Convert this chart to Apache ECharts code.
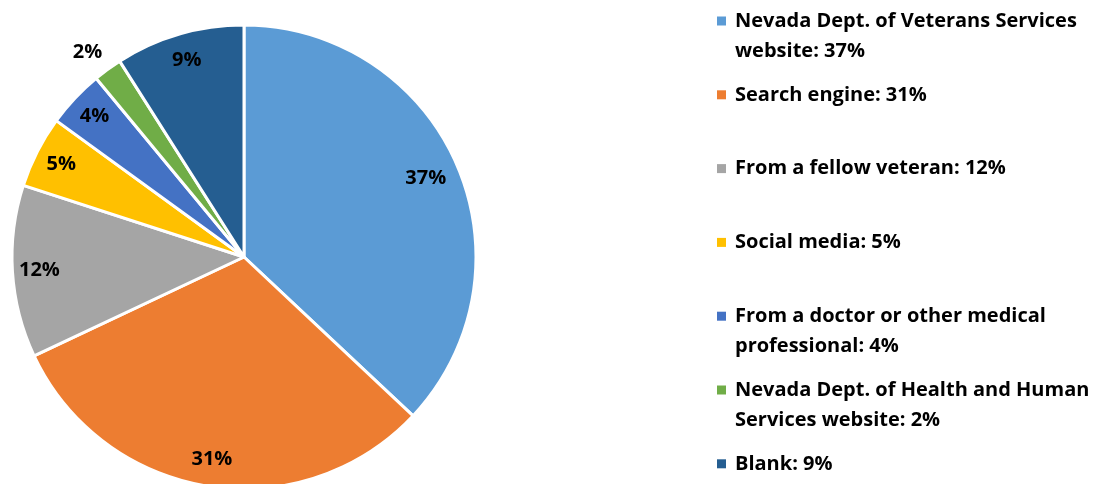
<!DOCTYPE html>
<html>
<head>
<meta charset="utf-8">
<script src="https://cdn.jsdelivr.net/npm/echarts@6/dist/echarts.min.js"></script>
<style>
html,body{margin:0;padding:0;background:#fff;}
#chart{width:1105px;height:484px;}
</style>
</head>
<body>
<div id="chart"></div>
<script>
const categories = [
  'Nevada Dept. of Veterans Services website',
  'Search engine',
  'From a fellow veteran',
  'Social media',
  'From a doctor or other medical professional',
  'Nevada Dept. of Health and Human Services website',
  'Blank'
];
const values = [37, 31, 12, 5, 4, 2, 9];
const colors = ['#5B9BD5', '#ED7D31', '#A5A5A5', '#FFC000', '#4472C4', '#70AD47', '#255E91'];
const wrapAfterWords = [5, 0, 0, 0, 6, 6, 0];
const outsideLabel = ['Nevada Dept. of Health and Human Services website'];
const nearerLabel = ['Nevada Dept. of Veterans Services website'];

const FONT = 'Open Sans';
const chart = echarts.init(document.getElementById('chart'), null, {renderer: 'canvas'});

const rich = {
  g: {width: 9, height: 30, lineHeight: 30},
  ind: {width: 18, height: 30, lineHeight: 30},
  t: {fontSize: 20, fontWeight: 'bold', fontFamily: FONT, color: '#000', lineHeight: 30}
};
colors.forEach((c, i) => {
  rich['m' + i] = {width: 9, height: 9, backgroundColor: c, lineHeight: 30};
});

const mainData = categories.map((n, i) => ({name: n, value: values[i], itemStyle: {color: colors[i]}}));

function labelSeries(innerR, pick) {
  return {
    type: 'pie',
    center: [244, 257],
    radius: [innerR, 232],
    startAngle: 90,
    clockwise: true,
    silent: true,
    itemStyle: {color: 'rgba(0,0,0,0)', borderWidth: 0},
    label: {
      show: true,
      formatter: '{c}%',
      fontFamily: FONT,
      fontWeight: 'bold',
      fontSize: 20,
      color: '#000'
    },
    labelLayout: {hideOverlap: false},
    data: categories.map((n, i) => {
      const isOut = outsideLabel.indexOf(n) >= 0;
      return {
        name: n,
        value: values[i],
        label: !pick(n) ? {show: false} :
          (isOut ? {position: 'outside', distanceToLabelLine: -7} : {position: 'inside'}),
        labelLine: isOut ? {show: false, length: 21, length2: 0} : {show: false}
      };
    })
  };
}

chart.setOption({
  animation: false,
  backgroundColor: '#fff',
  legend: {
    orient: 'vertical',
    left: 706,
    top: 1,
    icon: 'none',
    itemWidth: 1,
    itemHeight: 9,
    itemGap: 13.8,
    selectedMode: false,
    data: categories,
    textStyle: {rich: rich},
    formatter: function (name) {
      const i = categories.indexOf(name);
      const full = name + ': ' + values[i] + '%';
      const words = full.split(' ');
      let line1 = '{m' + i + '|\u00a0}{g|\u00a0}{t|' + full + '}';
      let line2 = i < categories.length - 1 ? '\n{ind|\u00a0}{t|\u00a0}' : '';
      if (wrapAfterWords[i]) {
        line1 = '{m' + i + '|\u00a0}{g|\u00a0}{t|' + words.slice(0, wrapAfterWords[i]).join(' ') + '}';
        line2 = '\n{ind|\u00a0}{t|' + words.slice(wrapAfterWords[i]).join(' ') + '}';
      }
      return line1 + line2;
    }
  },
  series: [
    {
      type: 'pie',
      center: [244, 257],
      radius: [0, 232],
      startAngle: 90,
      clockwise: true,
      silent: true,
      label: {show: false},
      labelLine: {show: false},
      itemStyle: {borderColor: '#fff', borderWidth: 3},
      data: mainData
    },
    labelSeries(172, n => nearerLabel.indexOf(n) < 0),
    labelSeries(158, n => nearerLabel.indexOf(n) >= 0)
  ]
});
</script>
</body>
</html>
